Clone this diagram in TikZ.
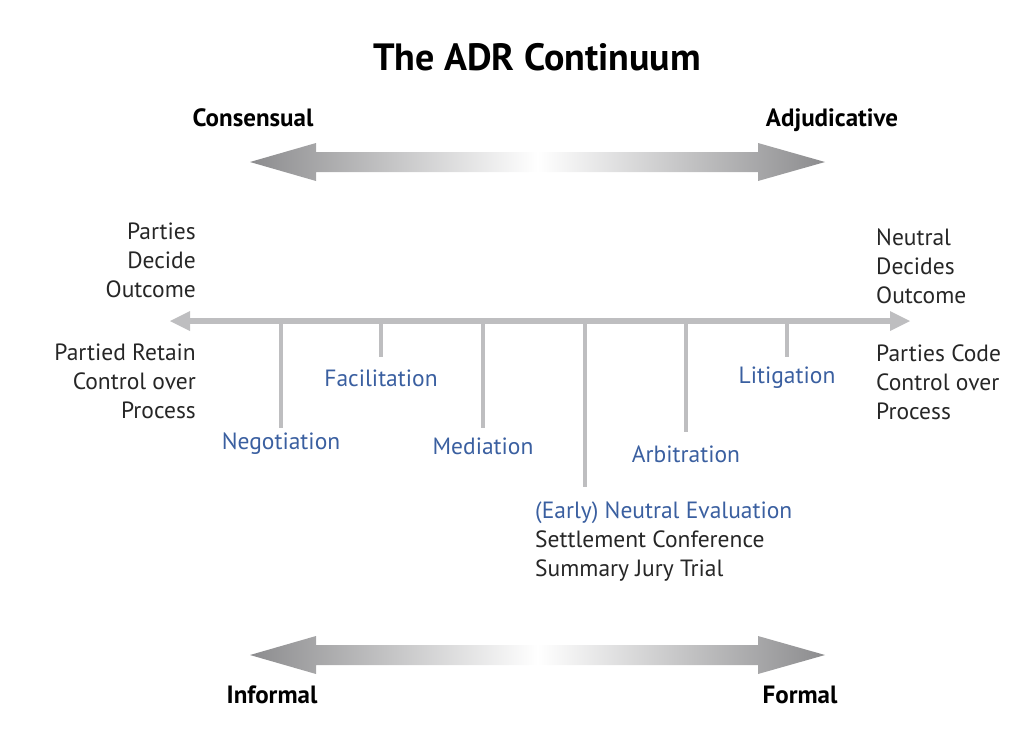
\documentclass[tikz,border=0pt]{standalone}
\usepackage{fontspec}
\setmainfont{PT Sans}
\usepackage{tikz}

\definecolor{adrblue}{RGB}{58,95,160}
\definecolor{axisgray}{RGB}{190,190,192}
\definecolor{endgray}{RGB}{140,140,142}

\tikzset{
  txt/.style={font=\fontsize{23.5}{29}\selectfont, text=black!85, inner sep=0pt},
  method/.style={txt, text=adrblue},
  pole/.style={font=\fontsize{25}{28}\selectfont\bfseries, inner sep=0pt, anchor=base},
  tick/.style={draw=axisgray, line width=4pt},
}

\newcommand{\gradarrow}[1]{%
  \shade[left color=endgray, right color=endgray, middle color=white]
    (250,#1) -- (316,#1-19) -- (316,#1-10) -- (758,#1-10) -- (758,#1-19)
    -- (825,#1) -- (758,#1+19) -- (758,#1+10) -- (316,#1+10) -- (316,#1+19) -- cycle;}

\begin{document}
\begin{tikzpicture}[x=1pt, y=-1pt]
  \useasboundingbox (0,0) rectangle (1024,737);

  \node[font=\fontsize{38}{42}\selectfont\bfseries, inner sep=0pt, anchor=base] (title) at (537,70) {The ADR Continuum};

  % top and bottom scales
  \node[pole] (consensual) at (253,126) {Consensual};
  \node[pole] (adjudicative) at (832,126) {Adjudicative};
  \gradarrow{162}
  \gradarrow{655}
  \node[pole] (informal) at (272,703) {Informal};
  \node[pole] (formal) at (800,703) {Formal};

  % main axis
  \coordinate (axisL) at (170,321);
  \coordinate (axisR) at (910,321);
  \fill[axisgray] (axisL) -- (190,311) -- (190,331) -- cycle;
  \fill[axisgray] (axisR) -- (890,311) -- (890,331) -- cycle;
  \draw[draw=axisgray, line width=6pt] (189,321) -- (891,321);

  % end labels
  \node[txt, align=right, anchor=north east] (decideL) at (196,223) {Parties\\Decide\\Outcome};
  \node[txt, align=right, anchor=north east] (controlL) at (196,344) {Partied Retain\\Control over\\Process};
  \node[txt, align=left, anchor=north west] (decideR) at (876,229) {Neutral\\Decides\\Outcome};
  \node[txt, align=left, anchor=north west] (controlR) at (876,345) {Parties Code\\Control over\\Process};

  % methods along the axis
  \node[method] (negotiation) at (281,444) {Negotiation};
  \node[method] (facilitation) at (381,378) {Facilitation};
  \node[method] (mediation) at (483,446) {Mediation};
  \node[method] (arbitration) at (686,454) {Arbitration};
  \node[method] (litigation) at (787,378) {Litigation};
  \node[txt, align=left, anchor=north west] (evaluation) at (535,502)
    {\textcolor{adrblue}{(Early) Neutral Evaluation}\\Settlement Conference\\Summary Jury Trial};
  \coordinate (evaltop) at (585,487);

  \foreach \m/\e in {negotiation/428, facilitation/357, mediation/428,
                     arbitration/432, litigation/357}
    \draw[tick] (\m.north |- axisL) -- (\m.north |- 0,\e);
  \draw[tick] (evaltop |- axisL) -- (evaltop);
\end{tikzpicture}
\end{document}
